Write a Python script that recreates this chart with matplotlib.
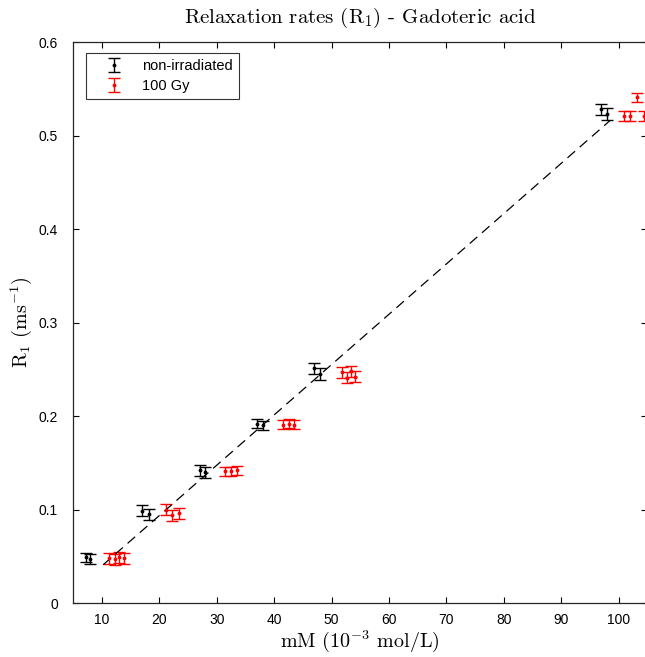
import matplotlib
matplotlib.use('Agg')
import matplotlib.pyplot as plt
import numpy as np

plt.rcParams['font.family'] = ['Liberation Sans', 'DejaVu Sans']
plt.rcParams['mathtext.fontset'] = 'cm'
plt.rcParams['axes.unicode_minus'] = False

# non-irradiated
x_ctrl = [7.2, 8.0, 17.0, 18.2, 27.0, 28.0, 37.0, 38.0, 47.0, 48.0, 97.0, 98.0]
r1_ctrl = [0.049, 0.047, 0.099, 0.095, 0.142, 0.140, 0.192, 0.190, 0.251, 0.245, 0.528, 0.523]
err_ctrl = [0.005, 0.005, 0.006, 0.006, 0.006, 0.006, 0.005, 0.005, 0.006, 0.006, 0.006, 0.006]

# 100 Gy
x_irr = [11.2, 12.2, 13.0, 13.8, 21.2, 22.2, 23.4, 31.5, 32.5, 33.5, 41.5, 42.5, 43.5,
         51.8, 52.6, 53.3, 54.0, 101.0, 102.0, 103.2, 104.4]
r1_irr = [0.048, 0.047, 0.049, 0.048, 0.100, 0.094, 0.096, 0.141, 0.141, 0.142, 0.191, 0.192, 0.191,
          0.247, 0.241, 0.248, 0.242, 0.521, 0.521, 0.541, 0.521]
err_irr = [0.006, 0.006, 0.006, 0.006, 0.006, 0.006, 0.006, 0.005, 0.005, 0.005, 0.005, 0.005, 0.005,
           0.006, 0.006, 0.006, 0.006, 0.005, 0.005, 0.005, 0.005]

# linear fit line
fit_x = [10.2, 98.5]
fit_slope = 0.00538
fit_icpt = -0.0139

fig = plt.figure(figsize=(6.45, 6.57), dpi=100)
ax = fig.add_axes([0.1136, 0.082, 0.890, 0.854])

ax.errorbar(x_ctrl, r1_ctrl, yerr=err_ctrl, fmt='.', color='k', ms=3.5, capsize=4.5,
            elinewidth=1, capthick=1, label='non-irradiated')
ax.errorbar(x_irr, r1_irr, yerr=err_irr, fmt='.', color='r', ms=3.5, capsize=4.5,
            elinewidth=1, capthick=1, label='100 Gy')
fx = np.array(fit_x)
ax.plot(fx, fit_slope * fx + fit_icpt, color='k', lw=0.9, dashes=(8, 5))

ax.set_xlim(5, 105)
ax.set_ylim(0, 0.6)
ax.set_xticks(np.arange(10, 101, 10))
ax.set_yticks(np.arange(0, 0.61, 0.1))
ax.set_yticklabels(['0', '0.1', '0.2', '0.3', '0.4', '0.5', '0.6'])
ax.tick_params(direction='in', top=True, right=True, labelsize=10, length=4)
ax.tick_params(axis='y', pad=11)
ax.tick_params(axis='x', pad=7)
for s in ax.spines.values():
    s.set_linewidth(0.9)
    s.set_color('#262626')

ax.set_title('Relaxation rates (R$_1$) - Gadoteric acid', fontsize=15, pad=14, family='cmr10')
ax.set_xlabel('mM (10$^{-3}$ mol/L)', fontsize=14.5, labelpad=1, family='cmr10')
ax.set_ylabel('R$_1$ (ms$^{-1}$)', fontsize=14.5, labelpad=3, family='cmr10')

leg = ax.legend(loc='upper left', fontsize=10.5, frameon=True, fancybox=False,
                edgecolor='k', borderpad=0.4, handlelength=3.0, handletextpad=0.45,
                labelspacing=0.4, borderaxespad=0, bbox_to_anchor=(0.0227, 0.980))
leg.get_frame().set_linewidth(0.8)

fig.savefig('out.png', dpi=100)
